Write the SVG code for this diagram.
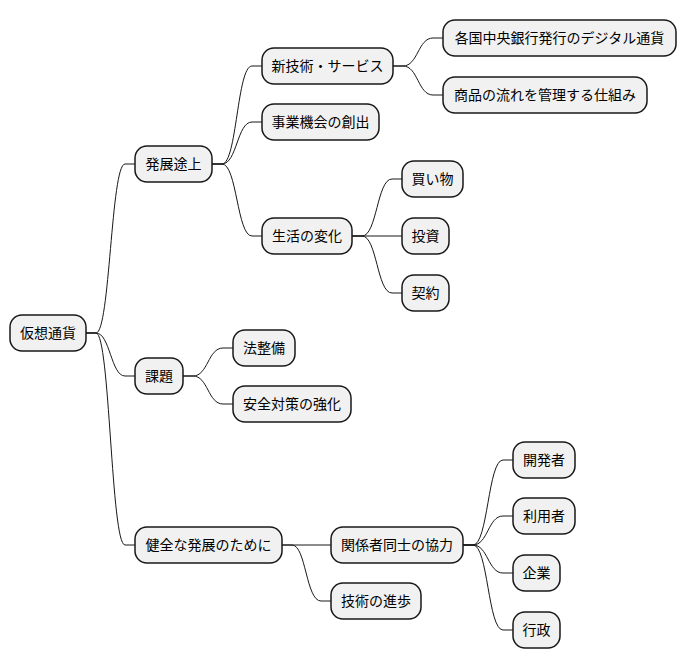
<svg xmlns="http://www.w3.org/2000/svg" width="684" height="668" viewBox="0 0 684 668">
<style>
.n rect{fill:#F1F1F1;stroke:#181818;stroke-width:1.5}
.n text{font-family:"Noto Sans CJK JP","Noto Sans CJK SC",sans-serif;font-size:14px;fill:#000;text-anchor:middle}
.c path{fill:none;stroke:#181818;stroke-width:1}
</style>
<rect width="684" height="668" fill="#fff"/>
<g class="c">
<path d="M86,333 L96,333 C110,333 111,164 125,164 L135,164"/>
<path d="M86,333 L96,333 C110,333 111,376 125,376 L135,376"/>
<path d="M86,333 L96,333 C110,333 111,545 125,545 L135,545"/>
<path d="M212,164 L222,164 C237,164 237,66 252,66 L262,66"/>
<path d="M212,164 L222,164 C237,164 237,122 252,122 L262,122"/>
<path d="M212,164 L222,164 C237,164 237,236 252,236 L262,236"/>
<path d="M393,66 L403,66 C418,66 418,38 433,38 L443,38"/>
<path d="M393,66 L403,66 C418,66 418,95 433,95 L443,95"/>
<path d="M352,236 L362,236 C377,236 377,179 392,179 L402,179"/>
<path d="M352,236 L402,236"/>
<path d="M352,236 L362,236 C377,236 377,293 392,293 L402,293"/>
<path d="M183,376 L193,376 C208,376 208,348 223,348 L233,348"/>
<path d="M183,376 L193,376 C208,376 208,404 223,404 L233,404"/>
<path d="M282,545 L331,545"/>
<path d="M282,545 L292,545 C306,545 306,601 321,601 L331,601"/>
<path d="M463,545 L473,545 C488,545 488,460 503,460 L513,460"/>
<path d="M463,545 L473,545 C488,545 488,516 503,516 L513,516"/>
<path d="M463,545 L473,545 C488,545 488,573 503,573 L513,573"/>
<path d="M463,545 L473,545 C488,545 488,630 503,630 L513,630"/>
</g>
<g class="n" id="root"><rect x="10" y="315" width="76" height="36" rx="12"/><text x="48" y="338">仮想通貨</text></g>
<g class="n" id="n1"><rect x="135" y="146" width="77" height="36" rx="12"/><text x="173.5" y="169">発展途上</text></g>
<g class="n" id="n11"><rect x="262" y="48" width="131" height="36" rx="12"/><text x="327.5" y="71">新技術・サービス</text></g>
<g class="n" id="n111"><rect x="443" y="20" width="233" height="36" rx="12"/><text x="559.5" y="43">各国中央銀行発行のデジタル通貨</text></g>
<g class="n" id="n112"><rect x="443" y="77" width="204" height="36" rx="12"/><text x="545" y="100">商品の流れを管理する仕組み</text></g>
<g class="n" id="n12"><rect x="262" y="104" width="117" height="36" rx="12"/><text x="320.5" y="127">事業機会の創出</text></g>
<g class="n" id="n13"><rect x="262" y="218" width="90" height="36" rx="12"/><text x="307" y="241">生活の変化</text></g>
<g class="n" id="n131"><rect x="402" y="161" width="61" height="36" rx="12"/><text x="432.5" y="184">買い物</text></g>
<g class="n" id="n132"><rect x="402" y="218" width="47" height="36" rx="12"/><text x="425.5" y="241">投資</text></g>
<g class="n" id="n133"><rect x="402" y="275" width="47" height="36" rx="12"/><text x="425.5" y="298">契約</text></g>
<g class="n" id="n2"><rect x="135" y="358" width="48" height="36" rx="12"/><text x="159" y="381">課題</text></g>
<g class="n" id="n21"><rect x="233" y="330" width="62" height="36" rx="12"/><text x="264" y="353">法整備</text></g>
<g class="n" id="n22"><rect x="233" y="386" width="118" height="36" rx="12"/><text x="292" y="409">安全対策の強化</text></g>
<g class="n" id="n3"><rect x="135" y="527" width="147" height="36" rx="12"/><text x="208.5" y="550">健全な発展のために</text></g>
<g class="n" id="n31"><rect x="331" y="527" width="132" height="36" rx="12"/><text x="397" y="550">関係者同士の協力</text></g>
<g class="n" id="n311"><rect x="513" y="442" width="62" height="36" rx="12"/><text x="544" y="465">開発者</text></g>
<g class="n" id="n312"><rect x="513" y="498" width="62" height="36" rx="12"/><text x="544" y="521">利用者</text></g>
<g class="n" id="n313"><rect x="513" y="555" width="47" height="36" rx="12"/><text x="536.5" y="578">企業</text></g>
<g class="n" id="n314"><rect x="513" y="612" width="47" height="36" rx="12"/><text x="536.5" y="635">行政</text></g>
<g class="n" id="n32"><rect x="331" y="583" width="90" height="36" rx="12"/><text x="376" y="606">技術の進歩</text></g>
</svg>
